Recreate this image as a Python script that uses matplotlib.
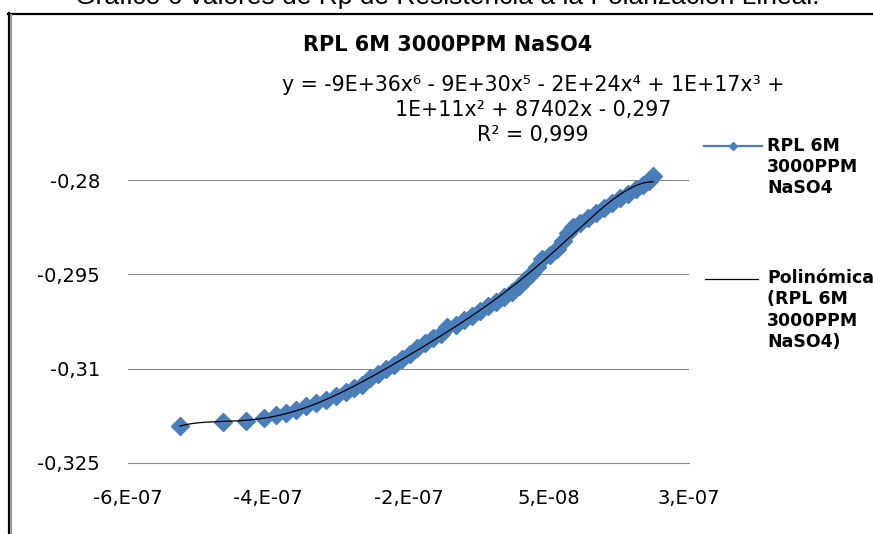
# -*- coding: utf-8 -*-

import numpy as np
import matplotlib
matplotlib.use('Agg')
import matplotlib.pyplot as plt

# corriente (x 1e-7 A) y potencial (V) de la curva RPL
corriente_e7 = [-4.758, -4.145, -3.817, -3.561, -3.390, -3.247, -3.104, -2.962,
                -2.819, -2.677, -2.534, -2.391, -2.277, -2.163, -2.049, -1.935,
                -1.821, -1.707, -1.593, -1.479, -1.379, -1.265, -1.151, -1.037,
                -0.951, -0.823, -0.709, -0.595, -0.480, -0.366, -0.252, -0.138,
                -0.024, 0.076, 0.161, 0.247, 0.332, 0.404, 0.518, 0.618,
                0.703, 0.774, 0.846, 0.946, 1.060, 1.174, 1.288, 1.402,
                1.516, 1.630, 1.744, 1.844, 1.929, 1.987]
potencial = [-0.31912, -0.31848, -0.31832, -0.31784, -0.31729, -0.31697, -0.31657, -0.31601,
             -0.31546, -0.31498, -0.31442, -0.31371, -0.31315, -0.31252, -0.31156, -0.31085,
             -0.31013, -0.30934, -0.30846, -0.30759, -0.30671, -0.30592, -0.30512, -0.30441,
             -0.30337, -0.30298, -0.30234, -0.30162, -0.30083, -0.30003, -0.29932, -0.29860,
             -0.29781, -0.29693, -0.29598, -0.29495, -0.29383, -0.29256, -0.29193, -0.29097,
             -0.28970, -0.28843, -0.28747, -0.28684, -0.28612, -0.28525, -0.28445, -0.28358,
             -0.28286, -0.28215, -0.28143, -0.28087, -0.28016, -0.27936]

x_ticks = [-5.5e-7, -3.5e-7, -1.5e-7, 0.5e-7, 2.5e-7]
x_labels = ['-6,E-07', '-4,E-07', '-2,E-07', '5,E-08', '3,E-07']
y_ticks = [-0.325, -0.31, -0.295, -0.28]
y_labels = ['-0,325', '-0,31', '-0,295', '-0,28']

encabezado = 'Gráfico 6 valores de Rp de Resistencia a la Polarización Lineal.'
titulo = 'RPL 6M 3000PPM NaSO4'
ecuacion = ['y = -9E+36x⁶ - 9E+30x⁵ - 2E+24x⁴ + 1E+17x³ +',
            '1E+11x² + 87402x - 0,297',
            'R² = 0,999']
leyenda_serie = ['RPL 6M', '3000PPM', 'NaSO4']
leyenda_tend = ['Polinómica', '(RPL 6M', '3000PPM', 'NaSO4)']

AZUL = '#4a7ebb'
GRIS = '#8c8c8c'
W, H = 873, 534

plt.rcParams['font.family'] = ['DejaVu Sans']

fig = plt.figure(figsize=(W / 100, H / 100), dpi=100)
fig.patch.set_facecolor('white')

ax = fig.add_axes([128 / W, 71 / H, 561 / W, 283 / H])
x = np.array(corriente_e7) * 1e-7
y = np.array(potencial)
ax.plot(x, y, 'D', color=AZUL, mec=AZUL, ms=9.2, clip_on=False, zorder=3)

# tendencia polinómica de orden 6 (x escalado para que el ajuste sea estable)
coef = np.polyfit(x * 1e7, y, 6)
xs = np.linspace(x.min(), x.max(), 400)
ax.plot(xs, np.polyval(coef, xs * 1e7), color='black', lw=0.9,
        clip_on=False, zorder=4)

ax.set_xlim(x_ticks[0], x_ticks[-1])
ax.set_ylim(y_ticks[0], y_ticks[-1])
ax.set_xticks(x_ticks)
ax.set_xticklabels(x_labels)
ax.set_yticks(y_ticks)
ax.set_yticklabels(y_labels)
ax.tick_params(length=0, labelsize=14, colors='black')
ax.tick_params(axis='y', pad=20)
ax.tick_params(axis='x', pad=19)
ax.yaxis.grid(True, color=GRIS, lw=0.8)
ax.set_axisbelow(True)
for s in ax.spines.values():
    s.set_visible(False)
ax.spines['bottom'].set_visible(True)
ax.spines['bottom'].set_color(GRIS)
ax.spines['bottom'].set_linewidth(0.8)
ax.patch.set_alpha(0)

# capa en pixeles para marco, textos y leyenda
ov = fig.add_axes([0, 0, 1, 1], zorder=5)
ov.set_xlim(0, W)
ov.set_ylim(H, 0)
ov.axis('off')

ov.plot([8, W], [13.5, 13.5], color='black', lw=1.6)
ov.plot([9, 9], [13, H], color='black', lw=1.6)
ov.plot([11.4, 11.4], [15, H], color='#9a9a9a', lw=1.6)

ov.text(447, 4, encabezado, ha='center', va='baseline', fontsize=19,
        family=['Liberation Sans', 'DejaVu Sans'])
ov.text(448, 45, titulo, ha='center', va='center', fontsize=15, weight='bold')
for i, t in enumerate(ecuacion):
    ov.text(533, 85 + 25 * i, t, ha='center', va='center', fontsize=14.8)

# leyenda
ov.plot([704, 762], [146, 146], color=AZUL, lw=1.6)
ov.plot([733], [146], 'D', color=AZUL, ms=3.8)
for i, t in enumerate(leyenda_serie):
    ov.text(767, 146 + 21 * i, t, ha='left', va='center', fontsize=12.5, weight='bold')
ov.plot([705, 758], [279, 279], color='black', lw=0.9)
for i, t in enumerate(leyenda_tend):
    ov.text(767, 278 + 21.3 * i, t, ha='left', va='center', fontsize=12.5, weight='bold')

fig.savefig('out.png', dpi=100)
